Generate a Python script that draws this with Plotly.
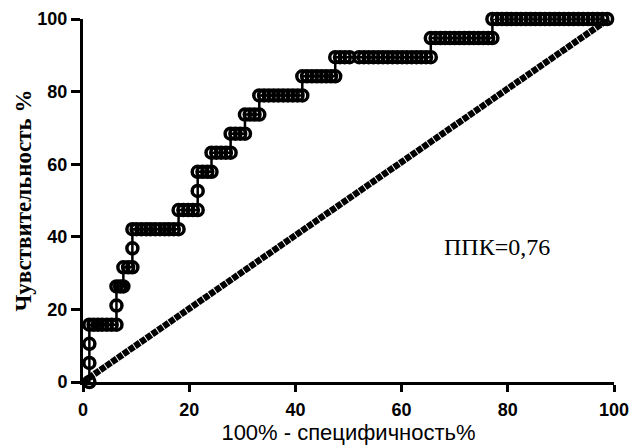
import plotly.graph_objects as go

# Sensitivity levels (%) and the 100%-specificity values (%) of the ROC points at each level
sens_levels = [0.0, 5.26, 10.53, 15.79, 21.05, 26.32, 31.58, 36.84, 42.11, 47.37,
               52.63, 57.89, 63.16, 68.42, 73.68, 78.95, 84.21, 89.47, 94.74, 100.0]
fpr_rows = [
    [1.2],
    [1.2],
    [1.2],
    [1.2, 2.0, 2.8, 3.6, 4.5, 5.4, 6.3],
    [6.3],
    [6.3, 7.0, 7.6],
    [7.6, 8.5, 9.3],
    [9.3],
    [9.3, 10.1, 11.0, 11.9, 12.7, 13.6, 14.5, 15.4, 16.2, 17.1, 18.0],
    [18.0, 18.9, 19.8, 20.7, 21.6],
    [21.6],
    [21.6, 22.5, 23.4, 24.2],
    [24.2, 25.1, 26.0, 26.9, 27.8],
    [27.8, 28.7, 29.6, 30.5],
    [30.5, 31.4, 32.3, 33.2],
    [33.2, 34.1, 35.0, 35.9, 36.8, 37.7, 38.6, 39.5, 40.4, 41.3],
    [41.3, 42.2, 43.1, 44.0, 44.9, 45.8, 46.7, 47.5],
    [47.5, 48.4, 49.3, 50.2, 52.0, 52.9, 53.8, 54.7, 55.6, 56.5, 57.4, 58.3,
     59.2, 60.1, 61.0, 61.9, 62.8, 63.7, 64.6, 65.5],
    [65.5, 66.4, 67.3, 68.2, 69.1, 70.0, 70.9, 71.8, 72.7, 73.6, 74.5, 75.4, 76.3, 77.1],
    [77.1, 78.0, 78.9, 79.8, 80.7, 81.6, 82.5, 83.4, 84.3, 85.2, 86.1, 87.0, 87.9,
     88.8, 89.7, 90.6, 91.5, 92.4, 93.3, 94.2, 95.1, 96.0, 96.9, 97.8, 98.7],
]

# Line of identity
diag_x = [0, 99]
diag_y = [0, 100]

x_ticks = [0, 20, 40, 60, 80, 100]
y_ticks = [0, 20, 40, 60, 80, 100]
x_title = "100% - специфичность%"
y_title = "Чувствительность %"
auc_text = "ППК=0,76"

roc_x, roc_y = [], []
for s, row in zip(sens_levels, fpr_rows):
    for f in row:
        roc_x.append(f)
        roc_y.append(s)

fig = go.Figure()
fig.add_trace(go.Scatter(
    x=diag_x, y=diag_y, mode="lines",
    line=dict(color="black", width=6.5, dash="6px,1px"),
    showlegend=False, cliponaxis=False, hoverinfo="skip"))
fig.add_trace(go.Scatter(
    x=roc_x, y=roc_y, mode="lines+markers",
    line=dict(color="black", width=2.5),
    marker=dict(symbol="circle-open", size=11, color="black", line=dict(width=3.5, color="black")),
    showlegend=False, cliponaxis=False))

fig.add_annotation(x=77.9, y=37.3, xref="x", yref="y", text=auc_text, showarrow=False,
                   font=dict(family="Times New Roman, Liberation Serif", size=24, color="black"))

axis_common = dict(showgrid=False, zeroline=False, showline=True, linecolor="black", linewidth=3,
                   ticks="outside", tickcolor="black", tickwidth=2.5, automargin=False,
                   tickfont=dict(family="Arial, Liberation Sans", size=18, color="black", weight="bold"))

fig.update_xaxes(range=[0, 100], tickvals=x_ticks, ticklen=7, ticklabelstandoff=2,
                 title=dict(text=x_title, standoff=5,
                            font=dict(family="Arial, Liberation Sans", size=22, color="black")),
                 **axis_common)
fig.update_yaxes(range=[0, 100], tickvals=y_ticks, ticklen=9, ticklabelstandoff=0,
                 title=dict(text=y_title, standoff=0,
                            font=dict(family="Times New Roman, Liberation Serif", size=23,
                                      color="black", weight="bold")),
                 **axis_common)

fig.update_layout(width=631, height=446, margin=dict(l=83, r=17, t=19, b=64),
                  paper_bgcolor="white", plot_bgcolor="white")
fig.write_html("out.html")
